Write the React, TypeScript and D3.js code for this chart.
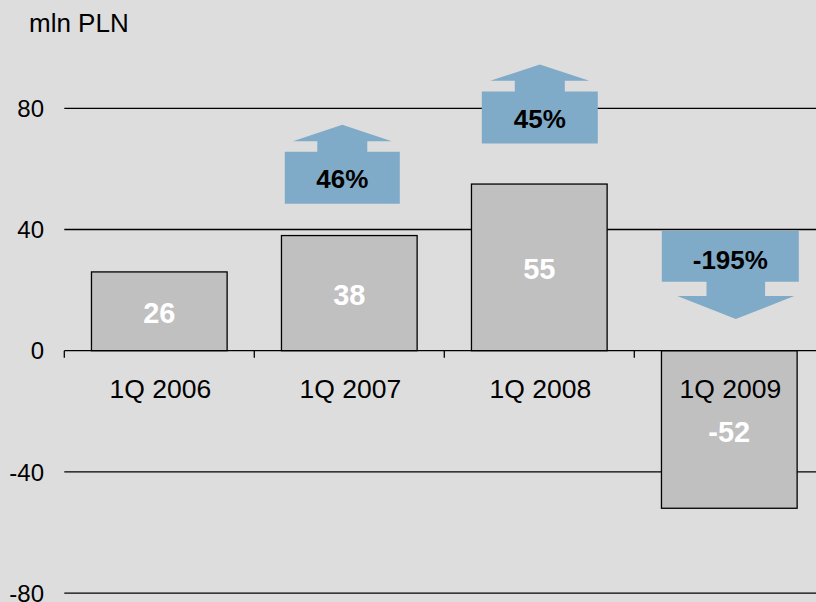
import * as d3 from 'd3';

// chart values
const categories = ['1Q 2006', '1Q 2007', '1Q 2008', '1Q 2009'];
const values = [26, 38, 55, -52];
const yTicks = [-80, -40, 0, 40, 80];
const growthLabels = ['46%', '45%', '-195%'];
const unitLabel = 'mln PLN';

const W = 816;
const H = 602;
const FONT = 'Liberation Sans, Arial, sans-serif';
const BG = '#dddddd';
const BAR = '#c0c0c0';
const ARROW = '#80abc8';

// arrow layout: which bar it sits on, its anchor level (value units) and box size
const arrowLayout = [
  { bar: 1, level: 48.5, dx: -7, w: 115, dir: 'up' },
  { bar: 2, level: 68.4, dx: 0.5, w: 116, dir: 'up' },
  { bar: 3, level: 39.6, dx: 1, w: 137, dir: 'down' },
];

const App = () => {
  const x = d3.scaleBand()
    .domain(categories)
    .range([64.3, 824.3])
    .paddingInner(0.286)
    .paddingOuter(0.143);

  const y = d3.scaleLinear().domain([-80, 80]).range([593.1, 108.3]);

  const step = x.step();
  const bw = x.bandwidth();
  const tickXs = categories.map(c => x(c) - step * 0.143);
  tickXs.push(tickXs[tickXs.length - 1] + step);

  const arrowPath = (cx, level, w, dir) => {
    const boxH = 52;
    const y0 = y(level);
    if (dir === 'up') {
      const stemW = 50, stemH = 10.6, headW = 99, headH = 16.3;
      const top = y0 - boxH;
      const p = d3.path();
      p.moveTo(cx - w / 2, y0);
      p.lineTo(cx + w / 2, y0);
      p.lineTo(cx + w / 2, top);
      p.lineTo(cx + stemW / 2, top);
      p.lineTo(cx + stemW / 2, top - stemH);
      p.lineTo(cx + headW / 2, top - stemH);
      p.lineTo(cx, top - stemH - headH);
      p.lineTo(cx - headW / 2, top - stemH);
      p.lineTo(cx - stemW / 2, top - stemH);
      p.lineTo(cx - stemW / 2, top);
      p.lineTo(cx - w / 2, top);
      p.closePath();
      return { d: p.toString(), mid: y0 - boxH / 2 };
    }
    // the down arrow's stem and head sit a little right of the box centre
    const sx = cx + 5.5;
    const stemW = 58.6, stemH = 14.4, headW = 117, headH = 23;
    const bot = y0 + boxH - 1;
    const p = d3.path();
    p.moveTo(cx - w / 2, y0);
    p.lineTo(cx + w / 2, y0);
    p.lineTo(cx + w / 2, bot);
    p.lineTo(sx + stemW / 2, bot);
    p.lineTo(sx + stemW / 2, bot + stemH);
    p.lineTo(sx + headW / 2, bot + stemH);
    p.lineTo(sx, bot + stemH + headH);
    p.lineTo(sx - headW / 2, bot + stemH);
    p.lineTo(sx - stemW / 2, bot + stemH);
    p.lineTo(sx - stemW / 2, bot);
    p.lineTo(cx - w / 2, bot);
    p.closePath();
    return { d: p.toString(), mid: y0 + boxH / 2 + 2 };
  };

  return (
    <svg width={W} height={H} style={{ position: 'absolute', left: 0, top: 0, background: BG }}>
      <rect x={0} y={0} width={W} height={H} fill={BG} />

      {/* unit label */}
      <text x={29} y={31.5} fontFamily={FONT} fontSize={26} fill="#000">{unitLabel}</text>

      {/* gridlines */}
      {yTicks.filter(t => t !== 0).map(t => (
        <line key={t} x1={64.3} x2={W} y1={y(t)} y2={y(t)} stroke="#000" strokeWidth={1.3} />
      ))}

      {/* y tick labels */}
      {yTicks.map(t => (
        <text key={t} x={44} y={y(t)} dy="0.36em" textAnchor="end"
          fontFamily={FONT} fontSize={24} fill="#000">{t}</text>
      ))}

      {/* bars */}
      {categories.map((c, i) => (
        <rect key={c} x={x(c)} width={bw}
          y={y(Math.max(0, values[i]))}
          height={Math.abs(y(values[i]) - y(0))}
          fill={BAR} stroke="#000" strokeWidth={1.3} />
      ))}

      {/* zero axis */}
      <line x1={64.3} x2={W} y1={y(0)} y2={y(0)} stroke="#000" strokeWidth={1.3} />
      {tickXs.map((tx, i) => (
        <line key={i} x1={tx} x2={tx} y1={y(0)} y2={y(0) + 7} stroke="#000" strokeWidth={1.3} />
      ))}

      {/* category labels */}
      {categories.map(c => (
        <text key={c} x={x(c) + bw / 2 + 1} y={388} dy="0.36em" textAnchor="middle"
          fontFamily={FONT} fontSize={26.5} fill="#000">{c}</text>
      ))}

      {/* value labels */}
      {categories.map((c, i) => (
        <text key={c} x={x(c) + bw / 2} y={(y(values[i]) + y(0)) / 2 + (values[i] < 0 ? 2 : 1)}
          dy="0.36em" textAnchor="middle" fontFamily={FONT} fontSize={29}
          fontWeight="bold" fill="#fff">{values[i]}</text>
      ))}

      {/* growth arrows */}
      {arrowLayout.map((a, i) => {
        const cx = x(categories[a.bar]) + bw / 2 + a.dx;
        const { d, mid } = arrowPath(cx, a.level, a.w, a.dir);
        return (
          <g key={i}>
            <path d={d} fill={ARROW} />
            <text x={cx} y={mid + 1} dy="0.36em" textAnchor="middle" fontFamily={FONT}
              fontSize={26} fontWeight="bold" fill="#000">{growthLabels[i]}</text>
          </g>
        );
      })}
    </svg>
  );
};

export default App;
